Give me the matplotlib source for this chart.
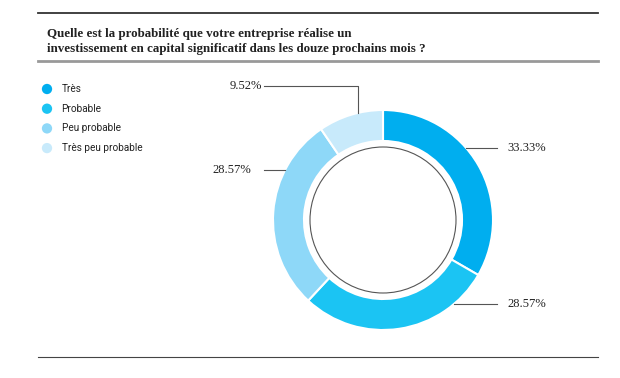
import numpy as np
import matplotlib.pyplot as plt
from matplotlib.patches import Circle

categories = ['Très', 'Probable', 'Peu probable', 'Très peu probable']
values = [33.33, 28.57, 28.57, 9.52]
labels = ['33.33%', '28.57%', '28.57%', '9.52%']
colors = ['#00aeef', '#1bc4f3', '#8ed8f8', '#c8eafb']

title = ("Quelle est la probabilité que votre entreprise réalise un\n"
         "investissement en capital significatif dans les douze prochains mois ?")

W, H = 620, 378
fig = plt.figure(figsize=(W / 100, H / 100), dpi=100)
ax = fig.add_axes([0, 0, 1, 1])

# work in pixel coords (y measured from the top)
cx, cy, r_out, r_in, r_hole = 383, 220, 110, 79, 73

def Y(y):
    return H - y

wedges, _ = ax.pie(values, colors=colors, startangle=90, counterclock=False,
                   center=(cx, Y(cy)), radius=r_out,
                   wedgeprops=dict(width=r_out - r_in, edgecolor='white', linewidth=1.5))
ax.add_patch(Circle((cx, Y(cy)), r_hole, facecolor='white', edgecolor='#555555', lw=0.8))

ax.set_xlim(0, W)
ax.set_ylim(0, H)
ax.set_aspect('equal')
ax.axis('off')

# rules
ax.plot([38, 598], [Y(13), Y(13)], color='#333333', lw=1.3)
ax.plot([38, 598], [Y(61), Y(61)], color='#999999', lw=2)
ax.plot([38, 598], [Y(357), Y(357)], color='#444444', lw=0.8)

ax.text(47, Y(27.5), title, ha='left', va='top', fontsize=9.4, fontweight='bold',
        family='Liberation Serif', color='#222222', linespacing=1.35)

# legend
for i, (cat, col) in enumerate(zip(categories, colors)):
    yy = Y(89 + i * 19.7)
    ax.scatter([47], [yy], s=55, color=col, edgecolors='none')
    ax.text(61.5, yy, cat, ha='left', va='center', fontsize=7.2, family='Roboto', color='#222222')

# value labels with leaders
serif = 'Liberation Serif'
def ring_x(y, side):
    dy = cy - y
    return cx + side * np.sqrt(r_out ** 2 - dy ** 2)

# Très
y0 = 148
ax.plot([ring_x(y0, 1), 497], [Y(y0), Y(y0)], color='#555555', lw=0.8)
ax.text(507, Y(y0), labels[0], ha='left', va='center', fontsize=9, family=serif, color='#222222')
# Probable
y1 = 304
ax.plot([ring_x(y1, 1), 497], [Y(y1), Y(y1)], color='#555555', lw=0.8)
ax.text(507, Y(y1), labels[1], ha='left', va='center', fontsize=9, family=serif, color='#222222')
# Peu probable
y2 = 170
ax.plot([264, ring_x(y2, -1)], [Y(y2), Y(y2)], color='#555555', lw=0.8)
ax.text(251, Y(y2), labels[2], ha='right', va='center', fontsize=9, family=serif, color='#222222')
# Très peu probable
y3, x3 = 86, 358
y3b = cy - np.sqrt(r_out ** 2 - (cx - x3) ** 2)
ax.plot([264, x3, x3], [Y(y3), Y(y3), Y(y3b)], color='#555555', lw=0.8)
ax.text(262, Y(y3), labels[3], ha='right', va='center', fontsize=9, family=serif, color='#222222')

fig.savefig('out.png', dpi=100, facecolor='white')
